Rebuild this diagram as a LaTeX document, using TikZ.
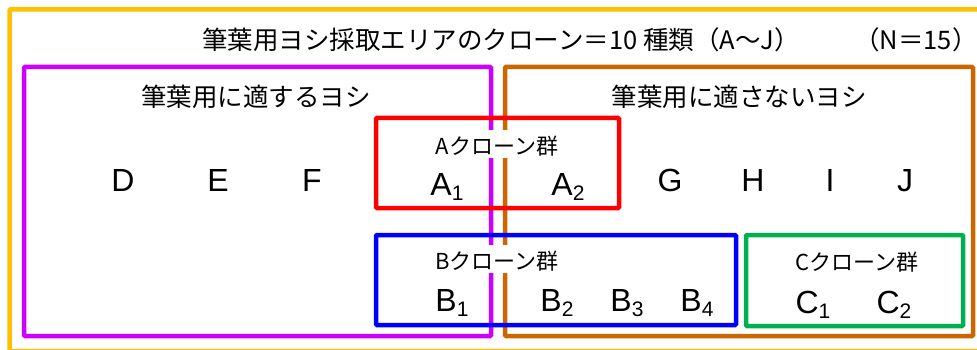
\documentclass[tikz,border=0pt]{standalone}
\usepackage{fontspec}
\setmainfont{Liberation Sans}
\newfontfamily\jp{Noto Sans CJK JP}
\newcommand\mysub[1]{\raisebox{-5pt}{\fontsize{21}{21}\selectfont #1}}
\definecolor{cyellow}{HTML}{FFC000}
\definecolor{cpurple}{HTML}{CC00FF}
\definecolor{corange}{HTML}{CC6600}
\definecolor{cred}{HTML}{FF0000}
\definecolor{cblue}{HTML}{0000FF}
\definecolor{cgreen}{HTML}{00B050}
\begin{document}
\begin{tikzpicture}[x=1pt,y=-1pt,
  frame/.style={line width=4.5pt, rounded corners=1pt},
  head/.style={font=\jp\fontsize{25.5}{25.5}\selectfont, inner sep=0pt},
  lbl/.style={font=\jp\fontsize{22}{22}\selectfont, fill=white, inner xsep=1pt, inner ysep=0pt, text height=24pt, text depth=4pt, anchor=base},
  letter/.style={font=\fontsize{32}{32}\selectfont, anchor=base, inner sep=0pt}]
\useasboundingbox (0,0) rectangle (977,350);
\clip (0,0) rectangle (977,350);
\fill[white] (0,0) rectangle (977,350);
% outer frame
\draw[frame, cyellow] (9.5,9.5) rectangle (995,351);
% title
\node[head] (title) at (501,40) {筆葉用ヨシ採取エリアのクローン＝10 種類（A～J）};
\node[head] (nn) at (916,40) {（N＝15）};
% suitable / not suitable frames
\draw[frame, cpurple] (24,67) rectangle (491,336);
\draw[frame, corange] (505,67) rectangle (973,336);
\node[head] (suit) at (256,97) {筆葉用に適するヨシ};
\node[head] (unsuit) at (739,97) {筆葉用に適さないヨシ};
% group frames
\draw[frame, cred] (376,118) rectangle (619,208);
\draw[frame, cblue] (376,235) rectangle (736,325);
\draw[frame, cgreen] (746,235) rectangle (963,326);
% group labels
\node[lbl] (ga) at (497,154) {Aクローン群};
\node[lbl] (gb) at (497,269) {Bクローン群};
\node[lbl] (gc) at (857,270) {Cクローン群};
% single clones
\node[letter] (d) at (123,191) {D};
\node[letter] (e) at (218,191) {E};
\node[letter] (f) at (312,191) {F};
\node[letter] (g) at (670,191) {G};
\node[letter] (h) at (753,191) {H};
\node[letter] (i) at (830,191) {I};
\node[letter] (j) at (905,191) {J};
% grouped clones
\node[letter] (a1) at (447,195) {A\mysub{1}};
\node[letter] (a2) at (568,195) {A\mysub{2}};
\node[letter] (b1) at (452,311) {B\mysub{1}};
\node[letter] (b2) at (557,311) {B\mysub{2}};
\node[letter] (b3) at (627,311) {B\mysub{3}};
\node[letter] (b4) at (697,311) {B\mysub{4}};
\node[letter] (c1) at (813,313) {C\mysub{1}};
\node[letter] (c2) at (894,313) {C\mysub{2}};
\end{tikzpicture}
\end{document}
